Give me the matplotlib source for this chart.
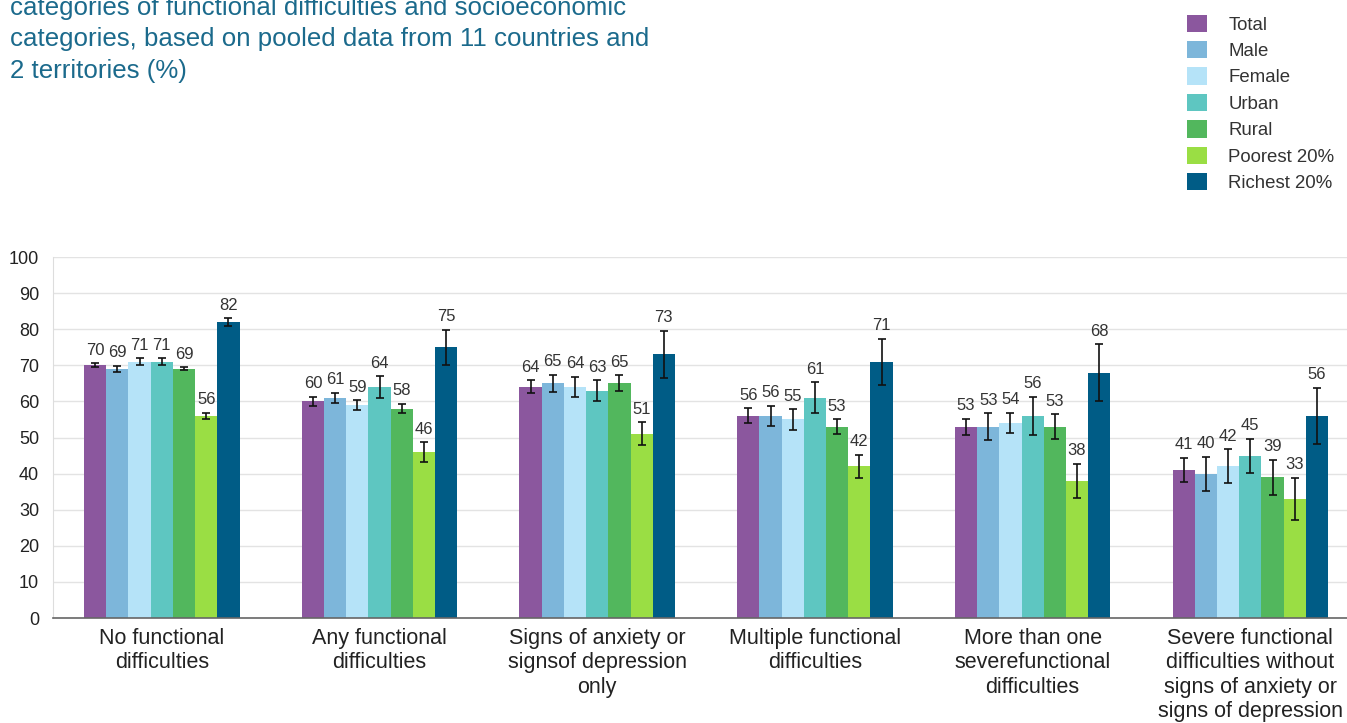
import numpy as np
import matplotlib.pyplot as plt

plt.rcParams['font.family'] = ['Liberation Sans', 'DejaVu Sans']

categories = [
    "No functional\ndifficulties",
    "Any functional\ndifficulties",
    "Signs of anxiety or\nsignsof depression\nonly",
    "Multiple functional\ndifficulties",
    "More than one\nseverefunctional\ndifficulties",
    "Severe functional\ndifficulties without\nsigns of anxiety or\nsigns of depression",
]
groups = ["Total", "Male", "Female", "Urban", "Rural", "Poorest 20%", "Richest 20%"]
colors = ["#8b579e", "#7db6da", "#b5e3f8", "#5ec6c1", "#52b75d", "#9ade44", "#005c86"]

# percentage per group, one list per category
values = {
    "Total":       [70, 60, 64, 56, 53, 41],
    "Male":        [69, 61, 65, 56, 53, 40],
    "Female":      [71, 59, 64, 55, 54, 42],
    "Urban":       [71, 64, 63, 61, 56, 45],
    "Rural":       [69, 58, 65, 53, 53, 39],
    "Poorest 20%": [56, 46, 51, 42, 38, 33],
    "Richest 20%": [82, 75, 73, 71, 68, 56],
}
# half-width of the confidence interval
errors = {
    "Total":       [0.6, 1.3, 1.8, 2.1, 2.2, 3.4],
    "Male":        [0.8, 1.4, 2.4, 2.8, 3.7, 4.7],
    "Female":      [1.0, 1.3, 2.8, 2.8, 2.8, 4.7],
    "Urban":       [1.0, 3.0, 2.8, 4.3, 5.3, 4.7],
    "Rural":       [0.4, 1.3, 2.2, 2.1, 3.4, 4.8],
    "Poorest 20%": [0.9, 2.7, 3.2, 3.2, 4.8, 5.8],
    "Richest 20%": [1.0, 4.9, 6.5, 6.4, 7.8, 7.8],
}

fig = plt.figure(figsize=(13.47, 7.23), dpi=100)
ax = fig.add_axes([0.0393, 0.1452, 0.9607, 0.4993])

x = np.arange(len(categories))
w = 0.102
for i, g in enumerate(groups):
    pos = x + (i - 3) * w
    ax.bar(pos, values[g], w, color=colors[i], label=g, zorder=2)
    ax.errorbar(pos, values[g], yerr=errors[g], fmt="none", ecolor="#111111",
                elinewidth=1.2, capsize=3, capthick=1.2, zorder=3)
    # value sits just above the top of the error bar
    for p, v, e in zip(pos, values[g], errors[g]):
        ax.annotate(f"{v}", (p, v + e), xytext=(0, 4), textcoords="offset points",
                    ha="center", va="bottom", fontsize=12, color="#333333")

ax.set_xlim(-0.5, 5.444)
ax.set_ylim(0, 100)
ax.set_yticks(range(0, 101, 10))
ax.set_xticks(x)
ax.set_xticklabels(categories, fontsize=15.5, color="#222222", linespacing=1.22)
ax.tick_params(axis="y", labelsize=13, colors="#222222", length=0, pad=10)
ax.tick_params(axis="x", length=0, pad=7)
ax.grid(axis="y", color="#e3e3e3", linewidth=1, zorder=0)
for s in ["top", "right"]:
    ax.spines[s].set_visible(False)
ax.spines["left"].set_color("#dddddd")
ax.spines["bottom"].set_color("#666666")
ax.spines["bottom"].set_linewidth(1.2)

fig.text(0.0074, 1.006, "categories of functional difficulties and socioeconomic\n"
         "categories, based on pooled data from 11 countries and\n2 territories (%)",
         ha="left", va="top", fontsize=18.6, color="#1b6a8c", linespacing=1.4)

handles, labels = ax.get_legend_handles_labels()
fig.legend(handles, labels, loc="upper left", bbox_to_anchor=(0.869, 1.003),
           frameon=False, fontsize=13.4, handlelength=1.05, handleheight=1.05,
           handletextpad=1.15, labelspacing=0.40, labelcolor="#333333")

fig.savefig("out.png", dpi=100)
